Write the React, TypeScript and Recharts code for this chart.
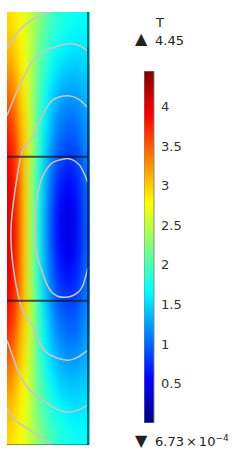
import React from "react";
import { BarChart, Bar, Cell, XAxis, YAxis, LineChart, Line, ReferenceLine } from "recharts";

// colour range of T
const tMin = 6.73e-4;
const tMax = 4.45;
const colorbarTicks = [0.5, 1, 1.5, 2, 2.5, 3, 3.5, 4];

// surface values of T, rows top -> bottom, 12 cells across
const temperature = [
  [2.95, 2.82, 2.7, 2.5, 2.3, 2.1, 1.95, 1.85, 1.78, 1.72, 1.7, 1.68],
  [3.05, 2.88, 2.72, 2.47, 2.2, 2.0, 1.85, 1.75, 1.68, 1.62, 1.6, 1.62],
  [3.15, 2.95, 2.75, 2.45, 2.15, 1.95, 1.75, 1.62, 1.55, 1.5, 1.5, 1.55],
  [3.3, 3.05, 2.8, 2.45, 2.1, 1.85, 1.62, 1.48, 1.4, 1.38, 1.4, 1.45],
  [3.45, 3.15, 2.85, 2.45, 2.05, 1.75, 1.5, 1.35, 1.28, 1.25, 1.28, 1.38],
  [3.6, 3.25, 2.9, 2.48, 2.02, 1.66, 1.4, 1.22, 1.12, 1.1, 1.15, 1.3],
  [3.75, 3.35, 2.95, 2.5, 2.0, 1.6, 1.3, 1.1, 1.0, 0.98, 1.05, 1.25],
  [3.85, 3.45, 3.0, 2.5, 1.95, 1.55, 1.2, 1.0, 0.88, 0.87, 0.97, 1.2],
  [3.95, 3.55, 3.0, 2.45, 1.88, 1.45, 1.08, 0.85, 0.73, 0.73, 0.86, 1.12],
  [4.0, 3.6, 3.0, 2.42, 1.84, 1.38, 0.98, 0.73, 0.6, 0.61, 0.78, 1.08],
  [4.03, 3.63, 3.0, 2.4, 1.82, 1.33, 0.92, 0.63, 0.49, 0.51, 0.72, 1.04],
  [4.05, 3.65, 3.0, 2.4, 1.8, 1.3, 0.88, 0.58, 0.43, 0.46, 0.68, 1.02],
  [4.05, 3.65, 3.0, 2.4, 1.8, 1.3, 0.88, 0.58, 0.44, 0.47, 0.68, 1.02],
  [4.03, 3.63, 3.0, 2.4, 1.82, 1.33, 0.92, 0.64, 0.5, 0.52, 0.72, 1.04],
  [4.0, 3.6, 3.0, 2.42, 1.84, 1.38, 0.99, 0.74, 0.62, 0.63, 0.79, 1.08],
  [3.95, 3.55, 3.0, 2.45, 1.88, 1.45, 1.08, 0.86, 0.75, 0.75, 0.87, 1.12],
  [3.85, 3.45, 3.0, 2.5, 1.95, 1.55, 1.2, 1.0, 0.9, 0.88, 0.98, 1.2],
  [3.75, 3.35, 2.95, 2.5, 2.0, 1.6, 1.3, 1.1, 1.0, 0.98, 1.05, 1.25],
  [3.6, 3.25, 2.9, 2.48, 2.02, 1.66, 1.4, 1.22, 1.12, 1.1, 1.15, 1.3],
  [3.45, 3.15, 2.85, 2.45, 2.05, 1.75, 1.5, 1.35, 1.28, 1.25, 1.28, 1.38],
  [3.3, 3.05, 2.8, 2.45, 2.1, 1.85, 1.62, 1.48, 1.4, 1.38, 1.4, 1.45],
  [3.15, 2.95, 2.75, 2.45, 2.15, 1.95, 1.75, 1.62, 1.55, 1.5, 1.5, 1.55],
  [3.05, 2.88, 2.72, 2.47, 2.2, 2.0, 1.85, 1.75, 1.68, 1.62, 1.6, 1.62],
  [2.95, 2.82, 2.7, 2.5, 2.3, 2.1, 1.95, 1.85, 1.78, 1.72, 1.7, 1.68],
];

// gray contour lines (x across 0..83, y up 0..433)
const contourA = [{ x: 0, y: 397 }, { x: 8, y: 410 }, { x: 23, y: 425 }, { x: 43, y: 434 }];
const contourB = [
  { x: 0, y: 330 }, { x: 8, y: 350 }, { x: 15, y: 365 }, { x: 26, y: 385 },
  { x: 43, y: 397 }, { x: 61, y: 402 }, { x: 73, y: 400 }, { x: 81, y: 395 },
];
const contourC = [
  { x: 81, y: 338 }, { x: 71, y: 347 }, { x: 61, y: 350 }, { x: 53, y: 349 }, { x: 43, y: 343 },
  { x: 33, y: 325 }, { x: 26, y: 310 }, { x: 19, y: 300 }, { x: 14, y: 290 }, { x: 8, y: 255 },
  { x: 4, y: 217 }, { x: 6, y: 180 }, { x: 13, y: 143 }, { x: 20, y: 127 }, { x: 26, y: 118 },
  { x: 36, y: 97 }, { x: 48, y: 88 }, { x: 61, y: 85 }, { x: 71, y: 88 }, { x: 81, y: 95 },
];
const contourD = [
  { x: 81, y: 263 }, { x: 73, y: 280 }, { x: 65, y: 286 }, { x: 58, y: 287 }, { x: 50, y: 285 },
  { x: 43, y: 281 }, { x: 37, y: 272 }, { x: 33, y: 262 }, { x: 29, y: 240 }, { x: 28, y: 217 },
  { x: 29, y: 195 }, { x: 33, y: 180 }, { x: 39, y: 163 }, { x: 46, y: 152 }, { x: 58, y: 148 },
  { x: 71, y: 153 }, { x: 77, y: 163 }, { x: 81, y: 178 },
];
const contourE = [
  { x: 0, y: 105 }, { x: 6, y: 88 }, { x: 13, y: 70 }, { x: 23, y: 55 }, { x: 36, y: 45 },
  { x: 48, y: 37 }, { x: 60, y: 33 }, { x: 71, y: 35 }, { x: 81, y: 40 },
];
const contourF = [{ x: 0, y: 37 }, { x: 8, y: 25 }, { x: 23, y: 15 }, { x: 35, y: 7 }, { x: 45, y: 0 }];
const contours = [contourA, contourB, contourC, contourD, contourE, contourF];

// boundaries drawn dark
const domainLinesY = [289, 144.5];
const boundaryX = 81;

const jetStops: [number, number[]][] = [
  [0, [0, 0, 127]],
  [0.125, [0, 0, 255]],
  [0.375, [0, 255, 255]],
  [0.625, [255, 255, 0]],
  [0.875, [255, 0, 0]],
  [1, [127, 0, 0]],
];

function jet(v: number) {
  const t = Math.min(1, Math.max(0, (v - tMin) / (tMax - tMin)));
  for (let i = 1; i < jetStops.length; i++) {
    const [t1, c1] = jetStops[i];
    const [t0, c0] = jetStops[i - 1];
    if (t <= t1) {
      const f = (t - t0) / (t1 - t0);
      const c = c0.map((a, k) => Math.round(a + (c1[k] - a) * f));
      return `rgb(${c[0]},${c[1]},${c[2]})`;
    }
  }
  return "rgb(127,0,0)";
}

const heatData = temperature[0].map((_, i) => {
  const d: any = { col: i };
  temperature.forEach((_, j) => (d["r" + j] = 1));
  return d;
});

const barData = [{ name: "T", span: [tMin, tMax] }];

const font = "'DejaVu Sans', sans-serif";
const W = 83;
const H = 433;

const NoDot = () => <g />;

export default function App() {
  return (
    <div style={{ position: "absolute", left: 0, top: 0, width: 240, height: 456, background: "#fff", fontFamily: font, color: "#222" }}>
      <svg width={0} height={0} style={{ position: "absolute" }}>
        <defs>
          {/* smooth the cells; alpha forced back to opaque inside the plot box */}
          <filter id="smooth" x="0" y="0" width="1" height="1" colorInterpolationFilters="sRGB">
            <feGaussianBlur in="SourceGraphic" stdDeviation="3.5 9" result="b" />
            <feComponentTransfer in="b">
              <feFuncA type="table" tableValues="0 1 1 1 1 1 1 1 1 1" />
            </feComponentTransfer>
          </filter>
        </defs>
      </svg>

      <div style={{ position: "absolute", left: 7, top: 12, width: W, height: H, filter: "url(#smooth)" }}>
        <BarChart width={W} height={H} data={heatData} margin={{ top: 0, right: 0, bottom: 0, left: 0 }} barCategoryGap={0} barGap={0}>
          <XAxis dataKey="col" hide />
          <YAxis type="number" domain={[0, temperature.length]} reversed hide />
          {temperature.map((row, j) => (
            <Bar key={j} dataKey={"r" + j} stackId="t" isAnimationActive={false}>
              {row.map((v, i) => (
                <Cell key={i} fill={jet(v)} />
              ))}
            </Bar>
          ))}
        </BarChart>
      </div>

      <div style={{ position: "absolute", left: 7, top: 12, width: W, height: H }}>
        <LineChart width={W} height={H} margin={{ top: 0, right: 0, bottom: 0, left: 0 }}>
          <XAxis type="number" dataKey="x" domain={[0, W]} hide />
          <YAxis type="number" dataKey="y" domain={[0, H]} hide />
          {contours.map((c, i) => (
            <Line key={i} data={c} dataKey="y" type="natural" stroke="#c6c6c6" strokeWidth={1.5} dot={false} isAnimationActive={false} />
          ))}
          {domainLinesY.map((y) => (
            <ReferenceLine key={y} segment={[{ x: 0, y }, { x: boundaryX - 0.5, y }]} stroke="#111" strokeOpacity={0.7} strokeWidth={2} />
          ))}
          <ReferenceLine x={boundaryX} stroke="#000" strokeOpacity={0.6} strokeWidth={2} />
          <ReferenceLine segment={[{ x: 0, y: 0.5 }, { x: boundaryX, y: 0.5 }]} stroke="#000" strokeOpacity={0.35} strokeWidth={1} />
        </LineChart>
      </div>

      <div style={{ position: "absolute", left: 144, top: 71, width: 50, height: 352 }}>
        <BarChart width={50} height={352} data={barData} margin={{ top: 0, right: 0, bottom: 0, left: 0 }} barCategoryGap={0}>
          <defs>
            <linearGradient id="jetBar" x1="0" y1="1" x2="0" y2="0">
              {jetStops.map(([t, c]) => (
                <stop key={t} offset={t} stopColor={`rgb(${c[0]},${c[1]},${c[2]})`} />
              ))}
            </linearGradient>
          </defs>
          <XAxis dataKey="name" hide />
          <YAxis yAxisId="v" orientation="right" type="number" domain={[tMin, tMax]} ticks={colorbarTicks} interval={0}
            tickLine={false} axisLine={false} tickSize={0} tickMargin={7} width={40}
            tick={{ fontSize: 13, fill: "#333", fontFamily: font }} />
          <YAxis yAxisId="ml" orientation="left" mirror type="number" domain={[tMin, tMax]} ticks={colorbarTicks} interval={0}
            axisLine={false} tickSize={2} width={1} tickLine={{ stroke: "#333" }} tick={NoDot} />
          <YAxis yAxisId="mr" orientation="right" mirror type="number" domain={[tMin, tMax]} ticks={colorbarTicks} interval={0}
            axisLine={false} tickSize={2} width={1} tickLine={{ stroke: "#333" }} tick={NoDot} />
          <Bar yAxisId="v" dataKey="span" fill="url(#jetBar)" stroke="#888" strokeWidth={1} isAnimationActive={false} />
        </BarChart>
      </div>

      <div style={{ position: "absolute", left: 156, top: 16, fontSize: 13, lineHeight: "13px" }}>T</div>
      <div style={{ position: "absolute", left: 135, top: 31, fontSize: 16, lineHeight: "16px" }}>▲</div>
      <div style={{ position: "absolute", left: 155, top: 34, fontSize: 13, lineHeight: "13px" }}>4.45</div>
      <div style={{ position: "absolute", left: 135, top: 433, fontSize: 16, lineHeight: "16px" }}>▼</div>
      <div style={{ position: "absolute", left: 155, top: 435, fontSize: 13, lineHeight: "13px", whiteSpace: "nowrap" }}>
        6.73<span style={{ margin: "0 2px" }}>×</span>10<sup style={{ fontSize: 9, verticalAlign: "top", position: "relative", top: -3 }}>−4</sup>
      </div>
    </div>
  );
}
